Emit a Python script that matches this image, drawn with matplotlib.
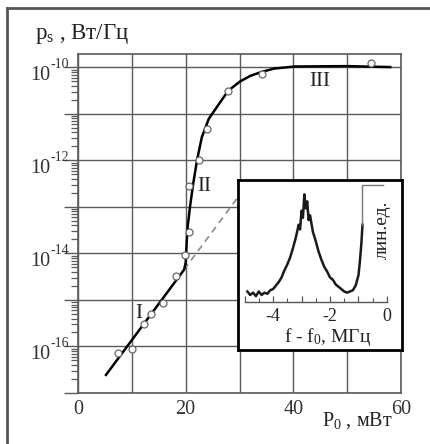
import matplotlib
matplotlib.use("Agg")
import matplotlib.pyplot as plt
from matplotlib.ticker import FixedLocator, LogLocator, NullFormatter, FixedFormatter
from matplotlib.lines import Line2D
from matplotlib.transforms import blended_transform_factory

plt.rcParams['font.family'] = ['Liberation Serif', 'DejaVu Serif']
plt.rcParams['mathtext.fontset'] = 'custom'
plt.rcParams['mathtext.rm'] = 'Liberation Serif'
plt.rcParams['mathtext.it'] = 'Liberation Serif:italic'
plt.rcParams['mathtext.bf'] = 'Liberation Serif:bold'

# ---------------- data ----------------
# fitted curve (P0 in mW, ps in W/Hz)
curve_p0 = [5.2, 19.7, 20.0, 20.3, 20.8, 21.4, 22.1, 23.0, 24.3, 25.5, 27.9, 30.1, 32.0, 34.2, 36.5, 40.3, 50.0, 58.0]
curve_ps = [2.45e-17, 4.47e-15, 6.3e-15, 3.16e-14, 1.0e-13, 3.16e-13, 1.0e-12, 3.16e-12, 7.9e-12,
            1.26e-11, 3.16e-11, 5.0e-11, 6.6e-11, 8.1e-11, 9.5e-11, 1.05e-10, 1.07e-10, 1.02e-10]
# measured points
meas_p0 = [7.4, 10.0, 12.3, 13.5, 15.7, 18.2, 19.9, 20.7, 20.7, 22.5, 23.9, 27.9, 34.2, 54.4]
meas_ps = [7.2e-17, 8.9e-17, 3.0e-16, 5.0e-16, 8.7e-16, 3.3e-15, 9.3e-15, 2.9e-14, 2.8e-13,
           1.0e-12, 4.8e-12, 3.1e-11, 7.2e-11, 1.26e-10]
# extrapolation of region I
ext_p0 = [19.7, 29.5]
ext_ps = [4.47e-15, 1.5e-13]
# region labels
region_names = ['I', 'II', 'III']
region_p0 = [11.2, 23.4, 45.0]
region_ps = [5.0e-16, 2.7e-13, 5.1e-11]

x_ticks = [0, 10, 20, 30, 40, 50, 60]
x_ticklabels = ['0', '', '20', '', '40', '', '60']
y_ticks = [1e-17, 1e-16, 1e-15, 1e-14, 1e-13, 1e-12, 1e-11, 1e-10]
y_label_vals = [1e-16, 1e-14, 1e-12, 1e-10]
y_label_exps = ['-16', '-14', '-12', '-10']

# inset spectrum (f - f0 in MHz, arb. units)
spec_f = [-4.9, -4.8, -4.7, -4.6, -4.5, -4.4, -4.3, -4.2, -4.1, -4.0, -3.9, -3.8, -3.7, -3.6, -3.5,
          -3.4, -3.3, -3.2, -3.1, -3.05, -3.0, -2.95, -2.9, -2.85, -2.8, -2.75, -2.7, -2.6, -2.5,
          -2.4, -2.3, -2.2, -2.1, -2.0, -1.9, -1.8, -1.7, -1.6, -1.5, -1.4, -1.3, -1.2, -1.1,
          -1.0, -0.95, -0.9, -0.86]
spec_y = [0.09, 0.06, 0.08, 0.05, 0.09, 0.06, 0.08, 0.07, 0.10, 0.11, 0.14, 0.17, 0.21, 0.27, 0.32,
          0.38, 0.46, 0.55, 0.66, 0.62, 0.78, 0.72, 0.92, 0.80, 0.86, 0.70, 0.74, 0.60, 0.52,
          0.43, 0.36, 0.30, 0.26, 0.21, 0.19, 0.15, 0.13, 0.11, 0.09, 0.08, 0.09, 0.10, 0.14,
          0.23, 0.35, 0.50, 0.66]
clip_f = [-0.86, -0.86, -0.14]
clip_y = [0.66, 1.0, 1.0]
inset_ticks = [-5, -4, -3, -2, -1, 0]
inset_ticklabels = ['', '-4', '', '-2', '', '0']

W, H = 430, 444
fig = plt.figure(figsize=(W / 100, H / 100), dpi=100)
fig.patch.set_facecolor('white')

def fx(px):
    return px / W

def fy(py):
    return 1 - py / H

# outer scan frame (top and left only)
fig.add_artist(Line2D([fx(7), fx(7)], [fy(8), 0], color='#555555', lw=2.0))
fig.add_artist(Line2D([fx(7), 1], [fy(8), fy(8)], color='#555555', lw=2.0))

ax = fig.add_axes([fx(78), fy(393), (401 - 78) / W, (393 - 54) / H])
ax.set_yscale('log')
ax.set_xlim(0, 60)
ax.set_ylim(1e-17, 10 ** -9.71)

gc = '#5a5a5a'
for s in ax.spines.values():
    s.set_color(gc)
    s.set_linewidth(1.2)

ax.xaxis.set_major_locator(FixedLocator(x_ticks))
ax.xaxis.set_major_formatter(FixedFormatter(x_ticklabels))
ax.yaxis.set_major_locator(FixedLocator(y_ticks))
ax.yaxis.set_major_formatter(NullFormatter())
ax.yaxis.set_minor_locator(LogLocator(base=10, subs=[2, 3, 4, 5, 6, 7, 8, 9], numticks=20))
ax.yaxis.set_minor_formatter(NullFormatter())
ax.tick_params(axis='x', length=0, pad=5, labelsize=14.5, colors='#333333')
ax.tick_params(axis='y', which='major', direction='out', length=10, width=1.0, color=gc)
ax.tick_params(axis='y', which='minor', direction='out', length=5, width=0.9, color=gc)
ax.grid(True, which='major', color=gc, lw=1.0)
ax.set_axisbelow(True)

# y tick labels: "10" with small raised exponent
tr = blended_transform_factory(fig.transFigure, ax.transData)
for v, e in zip(y_label_vals, y_label_exps):
    ax.text(fx(50.5), v * 10 ** -0.11, '10', transform=tr, fontsize=14.5, ha='right',
            va='center_baseline', color='#333333')
    ax.text(fx(50.5), v * 10 ** 0.1, e, transform=tr, fontsize=10, ha='left',
            va='center_baseline', color='#333333')

ax.plot(ext_p0, ext_ps, color='#8a8a8a', lw=1.2, ls=(0, (4, 3)), zorder=2)
ax.plot(curve_p0, curve_ps, color='black', lw=1.8, zorder=3)
ax.plot(meas_p0, meas_ps, ls='none', marker='o', ms=5, mfc='white', mec='#666666', mew=0.9, zorder=4)
for name, xp, yp in zip(region_names, region_p0, region_ps):
    ax.text(xp, yp, name, fontsize=15, ha='center', va='center', color='#222222', zorder=5)

# axis titles
fig.text(fx(35), fy(34), 'p$_\\mathrm{s}$ , Вт/Гц', fontsize=16.5, ha='left', va='center', color='#222222')
fig.text(fx(322), fy(421), 'P$_\\mathrm{0}$ , мВт', fontsize=14.5, ha='left', va='center', color='#222222')

# inset frame
axbox = fig.add_axes([fx(238), fy(350), (402 - 238) / W, (350 - 180) / H])
axbox.set_xticks([])
axbox.set_yticks([])
axbox.set_facecolor('white')
for s in axbox.spines.values():
    s.set_color('black')
    s.set_linewidth(2.0)

axi = fig.add_axes([fx(244.5), fy(302), (387 - 244.5) / W, (302 - 185) / H])
axi.patch.set_alpha(0)
axi.set_xlim(-5, 0)
axi.set_ylim(0, 1.0)
for k in ['top', 'right', 'left']:
    axi.spines[k].set_visible(False)
axi.spines['bottom'].set_color('#555555')
axi.spines['bottom'].set_linewidth(1.0)
axi.set_yticks([])
axi.xaxis.set_major_locator(FixedLocator(inset_ticks))
axi.xaxis.set_major_formatter(FixedFormatter(inset_ticklabels))
axi.set_xticks([-4.5, -3.5, -2.5, -1.5, -0.5], minor=True)
axi.tick_params(axis='x', which='major', direction='in', length=4, width=0.9, color='#555555',
                pad=4, labelsize=13, labelcolor='#222222')
axi.tick_params(axis='x', which='minor', direction='in', length=3, width=0.8, color='#555555')
axi.plot(spec_f, spec_y, color='#1a1a1a', lw=1.8, clip_on=False)
axi.plot(clip_f, clip_y, color='#777777', lw=1.0, clip_on=False)
axi.text(-0.16, 0.62, 'лин.ед.', rotation=90, fontsize=14, ha='center', va='center', color='#222222')
fig.text(fx(327), fy(337), 'f - f$_\\mathrm{0}$, МГц', fontsize=14, ha='center', va='center', color='#222222')

fig.savefig('out.png', dpi=100, facecolor='white')
